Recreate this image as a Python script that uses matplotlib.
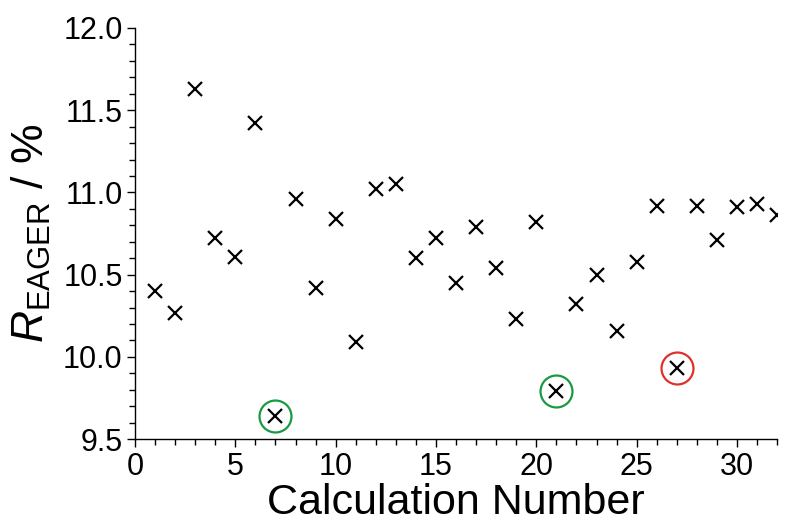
import numpy as np
import matplotlib
matplotlib.use("Agg")
from matplotlib import pyplot as plt
from matplotlib.ticker import MultipleLocator

plt.rcParams["font.family"] = ["Liberation Sans", "DejaVu Sans"]
plt.rcParams["mathtext.fontset"] = "custom"
plt.rcParams["mathtext.rm"] = "Liberation Sans"
plt.rcParams["mathtext.it"] = "Liberation Sans:italic"

# calculation number vs R_EAGER (%)
calc_number = list(range(1, 33))
r_eager = [10.40, 10.27, 11.63, 10.72, 10.61, 11.42, 9.64, 10.96,
           10.42, 10.84, 10.09, 11.02, 11.05, 10.60, 10.72, 10.45,
           10.79, 10.54, 10.23, 10.82, 9.79, 10.32, 10.50, 10.16,
           10.58, 10.92, 9.93, 10.92, 10.71, 10.91, 10.93, 10.86]

# highlighted calculations
green_calcs = [7, 21]
red_calcs = [27]

x = np.array(calc_number)
y = np.array(r_eager)

fig = plt.figure(figsize=(7.85, 5.26), dpi=100)
ax = fig.add_axes([0.172, 0.165, 0.818, 0.782])

ax.plot(x, y, "x", color="black", markersize=9.5, markeredgewidth=1.6)

for calcs, col in [(green_calcs, "#1a9a40"), (red_calcs, "#e0302a")]:
    idx = [calc_number.index(c) for c in calcs]
    ax.plot(x[idx], y[idx], "o", markerfacecolor="none", markeredgecolor=col,
            markersize=23, markeredgewidth=1.6)

ax.set_xlim(0, 32)
ax.set_ylim(9.5, 12.0)
ax.xaxis.set_major_locator(MultipleLocator(5))
ax.xaxis.set_minor_locator(MultipleLocator(1))
ax.yaxis.set_major_locator(MultipleLocator(0.5))
ax.yaxis.set_minor_locator(MultipleLocator(0.1))
ax.yaxis.set_major_formatter(matplotlib.ticker.FormatStrFormatter("%.1f"))

ax.spines["top"].set_visible(False)
ax.spines["right"].set_visible(False)
for s in ["left", "bottom"]:
    ax.spines[s].set_linewidth(1.0)

ax.tick_params(which="major", direction="out", length=6, width=1.0,
               labelsize=22, pad=3)
ax.tick_params(which="minor", direction="out", length=4, width=1.0)

ax.set_xlabel("Calculation Number", fontsize=31, labelpad=1)
ax.set_ylabel(r"$\mathit{R}_{\mathrm{EAGER}}$ / %", fontsize=32, labelpad=7)

fig.savefig("out.png", dpi=100)
